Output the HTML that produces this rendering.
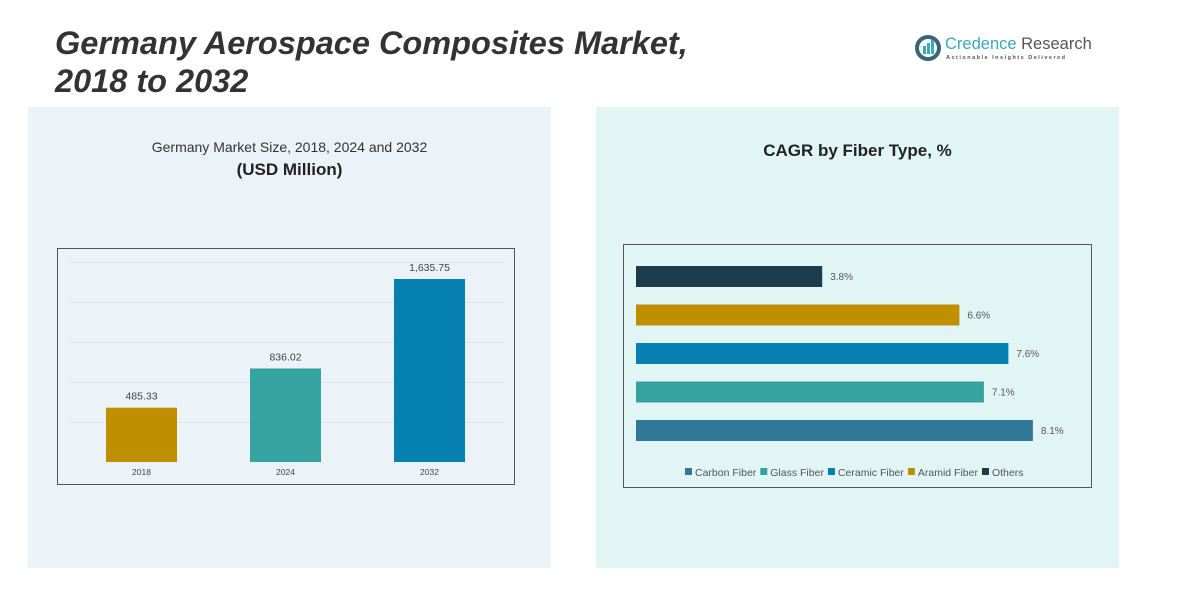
<!DOCTYPE html>
<html><head><meta charset="utf-8"><style>
body{margin:0;width:1195px;height:612px;background:#fff;position:relative;overflow:hidden;font-family:"Liberation Sans",sans-serif}
.abs{position:absolute}
</style></head><body>
<div class="abs" style="left:55px;top:24px;font-size:32.5px;font-weight:bold;font-style:italic;color:#333;line-height:38px">Germany Aerospace Composites Market,<br>2018 to 2032</div>
<div class="abs" style="left:914px;top:34px;width:180px;height:30px">
<svg width="28" height="28" style="position:absolute;left:0;top:0"><circle cx="14" cy="14" r="11" fill="none" stroke="#3a6478" stroke-width="4"/><rect x="9" y="12" width="3" height="8" fill="#3aa9b8"/><rect x="13" y="9" width="3" height="11" fill="#3aa9b8"/><rect x="17" y="6" width="3" height="14" fill="#3aa9b8"/></svg>
<div style="position:absolute;left:31px;top:1px;font-size:16.5px;color:#3aa9b8;white-space:nowrap">Credence <span style="color:#555">Research</span></div>
<div style="position:absolute;left:32px;top:21px;font-size:5.5px;letter-spacing:1.5px;color:#555;white-space:nowrap;font-weight:bold">Actionable Insights Delivered</div>
</div>
<div class="abs" style="left:28px;top:107px;width:523px;height:461px;background:#ebf2f8"></div>
<div class="abs" style="left:596px;top:107px;width:523px;height:461px;background:#e2f5f5"></div>
<div class="abs" style="left:28px;top:139px;width:523px;text-align:center;font-size:14px;color:#333">Germany Market Size, 2018, 2024 and 2032</div>
<div class="abs" style="left:28px;top:160px;width:523px;text-align:center;font-size:17px;font-weight:bold;color:#222">(USD Million)</div>
<div class="abs" style="left:596px;top:141px;width:523px;text-align:center;font-size:17px;font-weight:bold;color:#222">CAGR by Fiber Type, %</div>
<svg class="abs" style="left:0;top:0" width="1195" height="612" id="svg">
<g stroke="#dde4ea" stroke-width="1">
<line x1="68" x2="504" y1="262.5" y2="262.5"/><line x1="68" x2="504" y1="302.5" y2="302.5"/><line x1="68" x2="504" y1="342.5" y2="342.5"/><line x1="68" x2="504" y1="382.5" y2="382.5"/><line x1="68" x2="504" y1="422.5" y2="422.5"/>
</g>
<rect x="57.5" y="248.5" width="457" height="236" fill="none" stroke="#555" stroke-width="1"/>
<rect x="623.5" y="244.5" width="468" height="243" fill="none" stroke="#555" stroke-width="1"/>
</svg>
<script>
const years=["2018","2024","2032"];
const sizes=[485.33,836.02,1635.75];
const sizeLabels=["485.33","836.02","1,635.75"];
const yearColors=["#c08f00","#35a3a0","#0580b0"];
const fibers=["Others","Aramid Fiber","Ceramic Fiber","Glass Fiber","Carbon Fiber"];
const cagr=[3.8,6.6,7.6,7.1,8.1];
const fiberColors=["#1b3d4b","#c08f00","#0580b0","#35a3a0","#2f7898"];
const legendOrder=["Carbon Fiber","Glass Fiber","Ceramic Fiber","Aramid Fiber","Others"];
const NS="http://www.w3.org/2000/svg";
const svg=document.getElementById('svg');
function mk(t,a){const e=document.createElementNS(NS,t);for(const k in a)e.setAttribute(k,a[k]);svg.appendChild(e);return e;}
const yScale=v=>462-v*(183/1635.75);
years.forEach((y,i)=>{
 const x=106+i*144;
 const r=mk('rect',{x:x,y:yScale(sizes[i]),width:71,height:462-yScale(sizes[i]),fill:yearColors[i]});
 
 
 const t=mk('text',{x:x+35.5,y:yScale(sizes[i])-8,'text-anchor':'middle','font-size':'10.5',fill:'#444','font-family':'Liberation Sans'});
 t.textContent=sizeLabels[i];
 
 
 const c=mk('text',{x:x+35.5,y:475,'text-anchor':'middle','font-size':'8.5',fill:'#444','font-family':'Liberation Sans'});
 c.textContent=y;
 
 
});
const xScale=v=>636+v*49;
fibers.forEach((f,i)=>{
 const y=266+i*38.5;
 const r=mk('rect',{x:636,y:y,width:xScale(cagr[i])-636,height:21,fill:fiberColors[i]});
 
 
 const t=mk('text',{x:xScale(cagr[i])+8,y:y+14,'font-size':'10',fill:'#555','font-family':'Liberation Sans'});
 t.textContent=cagr[i].toFixed(1)+'%';
 
 
});
let lx=685;
const ctx=document.createElement('canvas').getContext('2d');ctx.font='10.5px Liberation Sans';
legendOrder.forEach(n=>{
 const c=fiberColors[fibers.indexOf(n)];
 const s=mk('rect',{x:lx,y:468,width:7,height:7,fill:c});
 
 
 const t=mk('text',{x:lx+10,y:476,'font-size':'10.5',fill:'#555','font-family':'Liberation Sans'});
 t.textContent=n;
 
 
 lx+=10+ctx.measureText(n).width+4;
});
</script>
</body></html>
